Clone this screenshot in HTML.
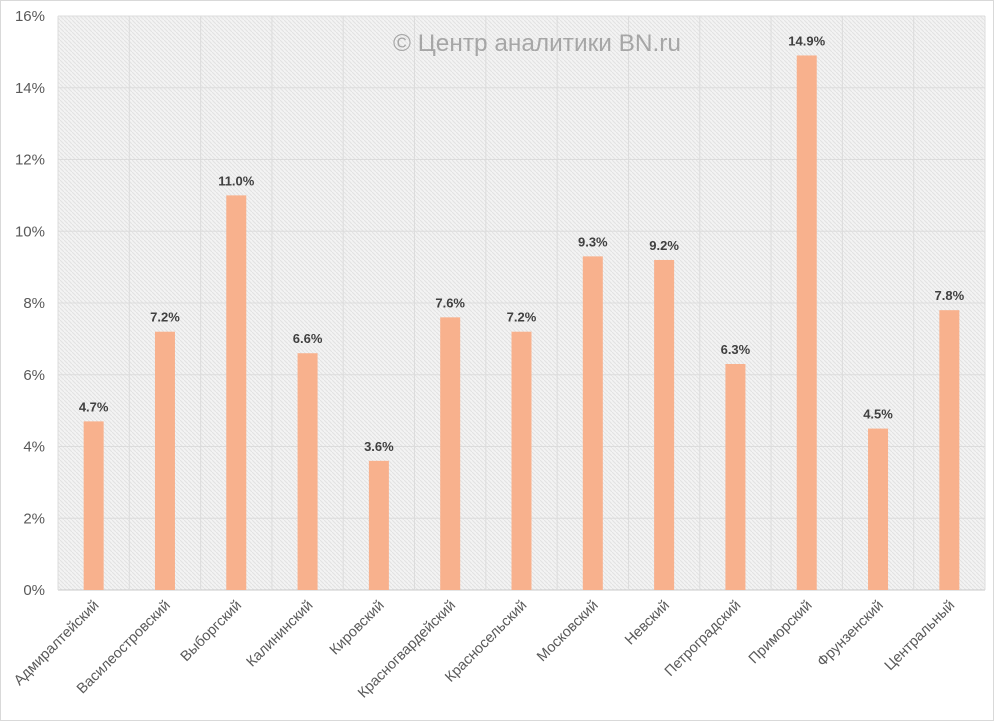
<!DOCTYPE html>
<html><head><meta charset="utf-8"><style>
html,body{margin:0;padding:0;background:#fff;}
svg{display:block;font-family:"Liberation Sans","DejaVu Sans",sans-serif;}
</style></head><body>
<svg id="c" width="994" height="721" xmlns="http://www.w3.org/2000/svg">
<defs>
<pattern id="h" width="4" height="4" patternUnits="userSpaceOnUse">
<rect width="4" height="4" fill="#f3f3f3"/>
<path d="M0,0 L4,4" stroke="#e2e2e2" stroke-width="1"/>
</pattern>
</defs>
<rect x="0" y="0" width="994" height="721" fill="#fff"/>
<rect x="0.5" y="0.5" width="993" height="720" fill="none" stroke="#d9d9d9"/>
<rect x="58" y="16" width="927" height="574" fill="url(#h)"/>
<g id="g"></g>
<text x="393" y="51" font-size="24" fill="#a6a6a6" textLength="288" lengthAdjust="spacingAndGlyphs">© Центр аналитики BN.ru</text>
</svg>
<script>
var g=document.getElementById('g'),s='';
var L=58,R=985,B=590,k=35.875,w=(R-L)/13;
for(var i=0;i<=8;i++){var y=B-i*2*k;s+='<line x1="'+L+'" x2="'+R+'" y1="'+y+'" y2="'+y+'" stroke="'+(i==0?'#c8c8c8':'#dcdcdc')+'"/>';
s+='<text x="45" y="'+(y+5)+'" font-size="15" fill="#595959" text-anchor="end">'+(i*2)+'%</text>';}
for(var j=0;j<=13;j++){var x=L+j*w;s+='<line x1="'+x+'" x2="'+x+'" y1="16" y2="'+B+'" stroke="#dcdcdc"/>';}
var n=['Адмиралтейский','Василеостровский','Выборгский','Калининский','Кировский','Красногвардейский','Красносельский','Московский','Невский','Петроградский','Приморский','Фрунзенский','Центральный'];
var v=[4.7,7.2,11.0,6.6,3.6,7.6,7.2,9.3,9.2,6.3,14.9,4.5,7.8];
for(var j=0;j<13;j++){var c=L+w/2+j*w,y=B-v[j]*k;
s+='<rect x="'+(c-10)+'" y="'+y+'" width="20" height="'+(B-y)+'" fill="#f8b18d"/>';
s+='<text x="'+c+'" y="'+(y-10)+'" font-size="13" font-weight="bold" fill="#404040" text-anchor="middle">'+v[j].toFixed(1)+'%</text>';
s+='<text transform="translate('+(c+6)+',606) rotate(-45)" font-size="14.5" fill="#595959" text-anchor="end">'+n[j]+'</text>';}
g.innerHTML=s;
</script>
</body></html>
